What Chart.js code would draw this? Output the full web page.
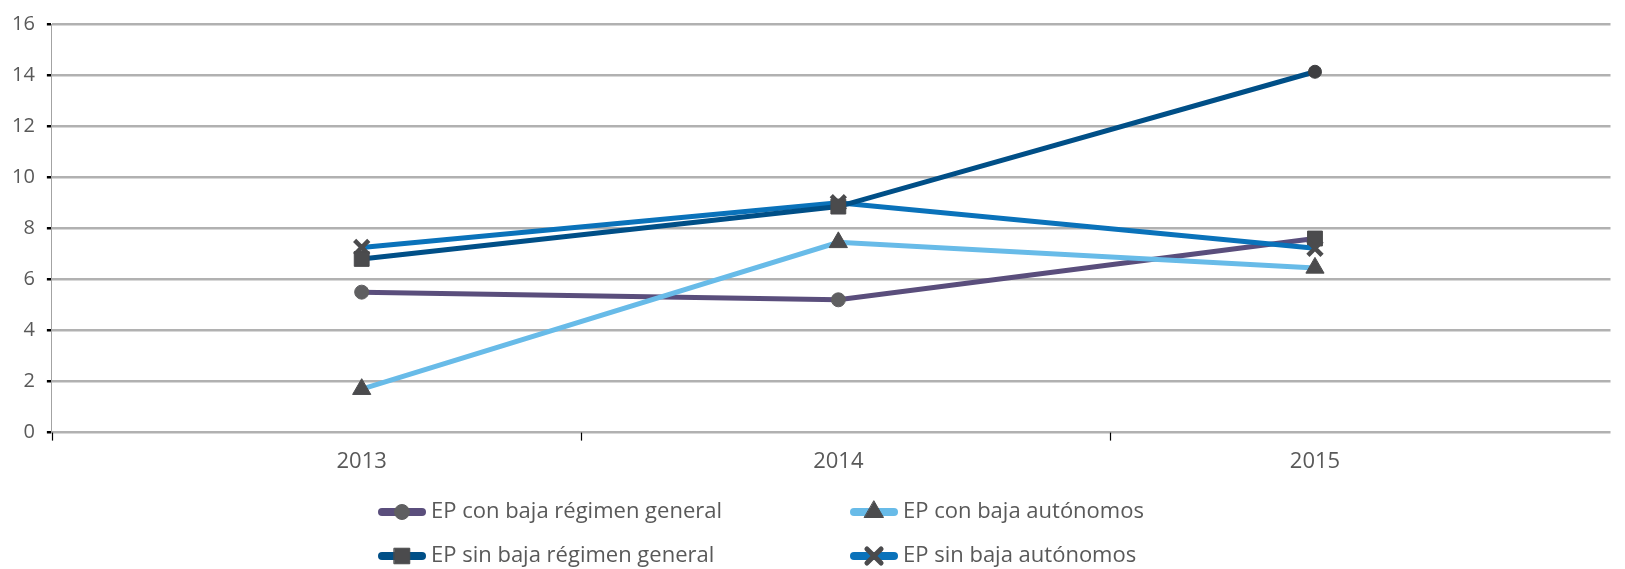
<!DOCTYPE html>
<html lang="es">
  <head>
    <meta charset="UTF-8" />
    <title>EP con y sin baja</title>
    <script src="https://cdn.jsdelivr.net/npm/chart.js@4.4.1/dist/chart.umd.min.js"></script>
    <style>
      html, body { margin: 0; padding: 0; background: #fff; }
      .wrap { width: 1625px; height: 569px; position: relative; }
    </style>
  </head>
  <body>
    <div class="wrap"><canvas id="chart"></canvas></div>

    <script>
      const years = [2013, 2014, 2015];
      const conBajaGeneral = [5.5, 5.2, 7.6];
      const conBajaAutonomos = [1.7, 7.45, 6.45];
      const sinBajaGeneral = [6.8, 8.85, 14.13];
      const sinBajaAutonomos = [7.25, 9.0, 7.22];
      // category boundary tick marks on the x axis
      const xTickMarks = [2012.35, 2013.46, 2014.57];

      const labels = [
        "EP con baja régimen general",
        "EP con baja autónomos",
        "EP sin baja régimen general",
        "EP sin baja autónomos",
      ];

      const marker = "#4b4b4d";
      const textColor = "#595959";

      function pts(values) {
        return values.map((v, i) => ({ x: years[i], y: v }));
      }

      const datasets = [
        {
          label: labels[0],
          data: pts(conBajaGeneral),
          borderColor: "#5a4e7c",
          pointStyle: ["circle", "circle", "rect"],
          pointRadius: [7, 7, 10.5],
          pointBackgroundColor: ["#5f5f61", "#5f5f61", marker],
          pointBorderColor: ["#5f5f61", "#5f5f61", marker],
          order: 3,
        },
        {
          label: labels[1],
          data: pts(conBajaAutonomos),
          borderColor: "#68bbe8",
          pointStyle: "triangle",
          pointRadius: 10.5,
          pointBackgroundColor: marker,
          pointBorderColor: marker,
          order: 2,
        },
        {
          label: labels[2],
          data: pts(sinBajaGeneral),
          borderColor: "#004f87",
          pointStyle: ["rect", "rect", "circle"],
          pointRadius: [10.5, 10.5, 6.5],
          pointBackgroundColor: [marker, marker, "#3f3f41"],
          pointBorderColor: [marker, marker, "#3f3f41"],
          order: 0,
        },
        {
          label: labels[3],
          data: pts(sinBajaAutonomos),
          borderColor: "#0a72ba",
          pointStyle: "crossRot",
          pointRadius: 10,
          pointBorderWidth: 4.5,
          pointBackgroundColor: marker,
          pointBorderColor: marker,
          order: 1,
        },
      ];

      datasets.forEach((d) => {
        d.borderWidth = 5;
        d.tension = 0;
        d.fill = false;
        if (d.pointBorderWidth === undefined) d.pointBorderWidth = 1;
      });

      const xTicksPlugin = {
        id: "xTicks",
        afterDraw(chart) {
          const ctx = chart.ctx;
          const x = chart.scales.x;
          const bottom = chart.chartArea.bottom;
          ctx.save();
          ctx.strokeStyle = "#000";
          ctx.lineWidth = 1.2;
          xTickMarks.forEach((v) => {
            const px = Math.round(x.getPixelForValue(v)) + 0.5;
            ctx.beginPath();
            ctx.moveTo(px, bottom);
            ctx.lineTo(px, bottom + 8);
            ctx.stroke();
          });
          ctx.restore();
        },
      };

      function drawMarker(ctx, style, r, color, bw, x, y) {
        ctx.save();
        ctx.fillStyle = color;
        ctx.strokeStyle = color;
        ctx.lineWidth = bw;
        if (Chart.helpers && Chart.helpers.drawPoint) {
          Chart.helpers.drawPoint(
            ctx,
            { pointStyle: style, radius: r, rotation: 0, borderWidth: bw },
            x,
            y
          );
        }
        ctx.restore();
      }

      const legendPlugin = {
        id: "bottomLegend",
        afterDraw(chart) {
          const ctx = chart.ctx;
          const cols = [378, 850];
          const rows = [512, 556];
          const items = [
            { ds: 0, style: "circle", r: 7.5, color: "#5f5f61", bw: 1 },
            { ds: 1, style: "triangle", r: 11, color: marker, bw: 1 },
            { ds: 2, style: "rect", r: 11, color: marker, bw: 1 },
            { ds: 3, style: "crossRot", r: 10, color: marker, bw: 5 },
          ];
          ctx.save();
          items.forEach((it, i) => {
            const x0 = cols[i % 2];
            const y0 = rows[Math.floor(i / 2)];
            const ds = chart.data.datasets[it.ds];
            ctx.strokeStyle = ds.borderColor;
            ctx.lineWidth = 8;
            ctx.lineCap = "round";
            ctx.beginPath();
            ctx.moveTo(x0 + 4, y0);
            ctx.lineTo(x0 + 44, y0);
            ctx.stroke();
            drawMarker(ctx, it.style, it.r, it.color, it.bw, x0 + 24, y0);
            ctx.fillStyle = textColor;
            ctx.font = "22px 'Open Sans'";
            ctx.textBaseline = "middle";
            ctx.textAlign = "left";
            ctx.fillText(ds.label, x0 + 53, y0);
          });
          ctx.restore();
        },
      };

      new Chart(document.getElementById("chart"), {
        type: "line",
        data: { datasets },
        plugins: [xTicksPlugin, legendPlugin],
        options: {
          responsive: true,
          maintainAspectRatio: false,
          animation: false,
          layout: { padding: { left: 0, top: 3, right: 0, bottom: 86 } },
          plugins: {
            legend: { display: false },
            tooltip: { enabled: false },
          },
          scales: {
            x: {
              type: "linear",
              min: 2012.35,
              max: 2015.62,
              afterBuildTicks: (axis) => {
                axis.ticks = years.map((v) => ({ value: v }));
              },
              grid: { display: false },
              border: { display: false },
              ticks: {
                padding: 8,
                color: textColor,
                font: { family: "'Open Sans'", size: 22 },
                callback: (v) => String(v),
              },
            },
            y: {
              min: 0,
              max: 16,
              ticks: {
                stepSize: 2,
                padding: 12,
                color: textColor,
                font: { family: "'Open Sans'", size: 20 },
              },
              grid: {
                color: "#b1b1b1",
                lineWidth: 2.5,
                tickColor: "#000",
                tickWidth: 2.5,
                tickLength: 5,
              },
              border: { display: true, color: "#a3a3a3", width: 1 },
            },
          },
        },
      });
    </script>
  </body>
</html>
